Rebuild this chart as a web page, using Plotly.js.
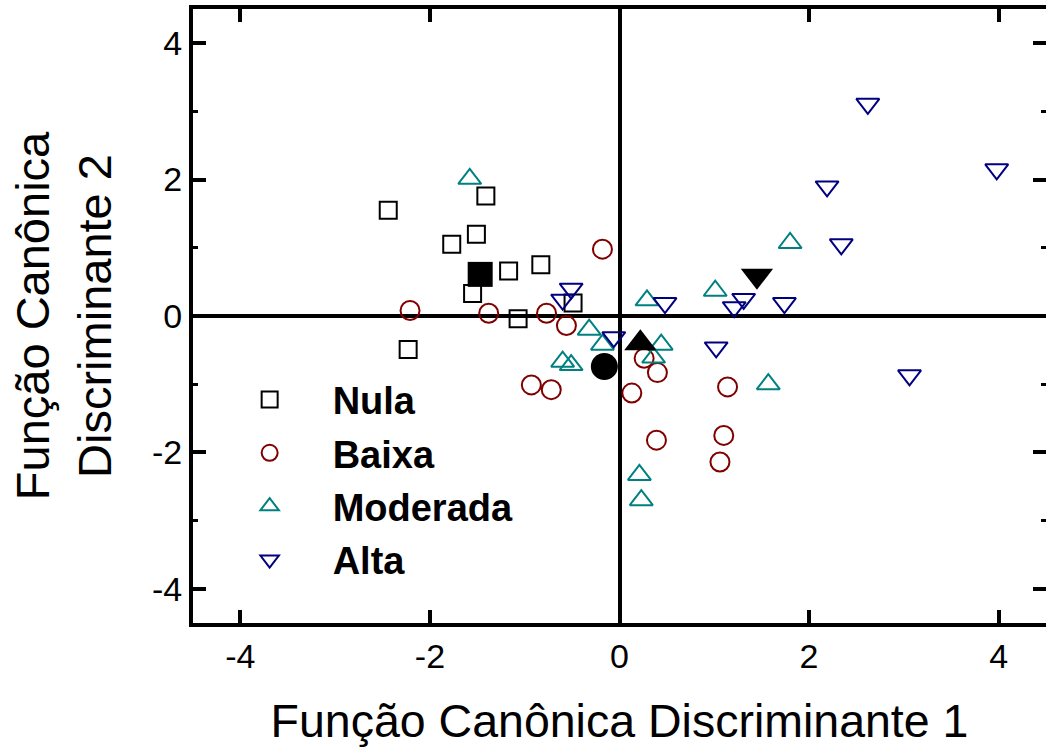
<!DOCTYPE html>
<html>
<head>
<meta charset="utf-8">
<script src="https://cdn.plot.ly/plotly-3.0.1.min.js"></script>
<style>html,body{margin:0;padding:0;background:#fff;}#chart{width:1046px;height:751px;}</style>
</head>
<body>
<div id="chart"></div>
<script>
// Group names
const groupNames = ["Nula", "Baixa", "Moderada", "Alta"];

// Nula (open squares)
const nulaX = [-2.44, -1.41, -1.51, -1.77, -1.17, -0.83, -1.55, -0.49, -1.07, -2.23];
const nulaY = [1.55, 1.76, 1.20, 1.05, 0.66, 0.75, 0.33, 0.19, -0.04, -0.49];

// Baixa (open circles)
const baixaX = [-0.18, -2.21, -1.38, -0.77, -0.56, -0.93, -0.72, 0.26, 0.40, 0.13, 1.14, 0.39, 1.10, 1.06];
const baixaY = [0.98, 0.08, 0.04, 0.04, -0.14, -1.01, -1.08, -0.62, -0.83, -1.13, -1.04, -1.82, -1.75, -2.14];

// Moderada (open up-triangles)
const modX = [-1.58, 1.80, 1.01, 0.29, -0.32, -0.18, -0.60, -0.51, 0.44, 0.36, 1.57, 0.21, 0.23];
const modY = [2.01, 1.07, 0.37, 0.23, -0.20, -0.42, -0.67, -0.72, -0.42, -0.61, -1.00, -2.33, -2.70];

// Alta (open down-triangles)
const altaX = [2.62, 3.98, 2.19, 2.34, 1.74, 1.31, 1.21, 0.48, 1.02, 3.06, -0.06, -0.51, -0.60];
const altaY = [3.11, 2.15, 1.90, 1.05, 0.19, 0.25, 0.13, 0.19, -0.46, -0.87, -0.31, 0.40, 0.24];

// Group centroids (filled): Nula, Baixa, Moderada, Alta
const centX = [-1.47, -0.16, 0.22, 1.45];
const centY = [0.61, -0.74, -0.40, 0.59];

// Axis ticks
const tickVals = [-4, -2, 0, 2, 4];
const tickText = ["-4", "-2", "0", "2", "4"];

const colors = ["#000000", "#800000", "#008080", "#000080"];
const symbols = ["square-open", "circle-open", "triangle-up-open", "triangle-down-open"];
const fills = ["square", "circle", "triangle-up", "triangle-down"];
const sizes = [17, 19, 20, 20];
const centSizes = [25, 27, 28, 28];

const xs = [nulaX, baixaX, modX, altaX];
const ys = [nulaY, baixaY, modY, altaY];

const traces = [];
for (let i = 0; i < 4; i++) {
  traces.push({
    type: "scatter", mode: "markers", name: groupNames[i], legendgroup: "g" + i,
    x: xs[i], y: ys[i],
    marker: {symbol: symbols[i], size: sizes[i], color: colors[i], line: {width: 2, color: colors[i]}},
    cliponaxis: false
  });
}
for (let i = 0; i < 4; i++) {
  traces.push({
    type: "scatter", mode: "markers", showlegend: false, legendgroup: "g" + i,
    x: [centX[i]], y: [centY[i]],
    marker: {symbol: fills[i], size: centSizes[i], color: "#000000", line: {width: 0}}
  });
}

const fontFam = "Liberation Sans, Arial, Helvetica, sans-serif";
const layout = {
  width: 1046, height: 751,
  margin: {l: 193, r: 0, t: 9, b: 128},
  paper_bgcolor: "#ffffff", plot_bgcolor: "#ffffff",
  showlegend: true,
  font: {family: fontFam, color: "#000"},
  xaxis: {
    range: [-4.5, 4.5], tickvals: tickVals, ticktext: tickText,
    ticks: "inside", ticklen: 13, tickwidth: 4, tickcolor: "#000",
    showline: true, linewidth: 4, linecolor: "#000", mirror: "ticks",
    showgrid: false, zeroline: true, zerolinewidth: 4, zerolinecolor: "#000",
    tickfont: {size: 34, family: fontFam},
    title: {text: "Função Canônica Discriminante 1", font: {size: 46.5, family: fontFam}, standoff: 32},
    automargin: false
  },
  yaxis: {
    range: [-4.5, 4.5], tickvals: tickVals, ticktext: tickText,
    ticks: "inside", ticklen: 13, tickwidth: 4, tickcolor: "#000",
    minor: {dtick: 1, ticks: "inside", ticklen: 5, tickwidth: 3, tickcolor: "#000", showgrid: false},
    showline: true, linewidth: 4, linecolor: "#000", mirror: "ticks",
    showgrid: false, zeroline: true, zerolinewidth: 4, zerolinecolor: "#000",
    tickfont: {size: 34, family: fontFam},
    title: {text: "Função Canônica<br>Discriminante 2", font: {size: 47, family: fontFam}, standoff: 27},
    automargin: false
  },
  legend: {
    x: 0.016, y: 0.415, xanchor: "left", yanchor: "top",
    bgcolor: "rgba(0,0,0,0)", borderwidth: 0,
    font: {size: 38, family: fontFam, weight: "bold", color: "#000"},
    itemwidth: 116, traceorder: "grouped", tracegroupgap: 1
  }
};

Plotly.newPlot("chart", traces, layout, {displayModeBar: false, staticPlot: true});
</script>
</body>
</html>
